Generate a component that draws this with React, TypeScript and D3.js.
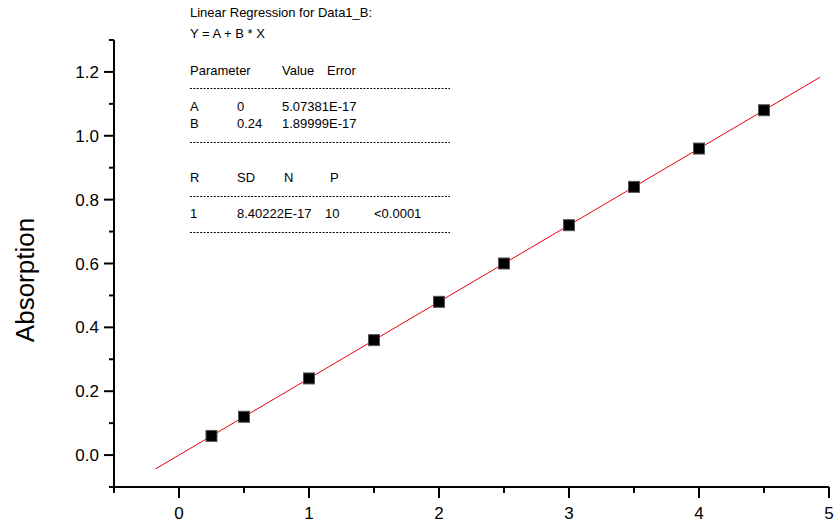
import { useEffect, useRef } from "react";
import * as d3 from "d3";

// data points (concentration vs absorption)
const xValues = [0.25, 0.5, 1, 1.5, 2, 2.5, 3, 3.5, 4, 4.5];
const yValues = [0.06, 0.12, 0.24, 0.36, 0.48, 0.6, 0.72, 0.84, 0.96, 1.08];

// fit line ends
const fitX = [-0.18, 4.93];
const fitA = 0;
const fitB = 0.24;

const xTicks = [0, 1, 2, 3, 4, 5];
const yTicks = [0, 0.2, 0.4, 0.6, 0.8, 1.0, 1.2];

const App = () => {
  const svgRef = useRef<SVGSVGElement | null>(null);

  useEffect(() => {
    const svg = d3.select(svgRef.current);
    svg.selectAll("*").remove();

    const width = 837;
    const height = 524;
    const font = "Liberation Sans, Arial, sans-serif";

    svg.attr("width", width).attr("height", height);

    const x = d3.scaleLinear().domain([-0.5, 5]).range([114, 829]);
    const y = d3.scaleLinear().domain([-0.1, 1.3]).range([487, 40]);

    // x axis
    const xAxis = svg.append("g").attr("transform", `translate(0,${y(-0.1)})`);
    xAxis
      .append("line")
      .attr("x1", x(-0.5))
      .attr("x2", x(5))
      .attr("stroke", "#000")
      .attr("stroke-width", 2);
    const xMinor = d3.range(-0.5, 5.01, 0.5);
    xAxis
      .selectAll("line.tick")
      .data(xMinor)
      .join("line")
      .attr("class", "tick")
      .attr("x1", (d) => x(d))
      .attr("x2", (d) => x(d))
      .attr("y1", 0)
      .attr("y2", (d) => (Math.abs(d - Math.round(d)) < 1e-6 ? 11 : 6))
      .attr("stroke", "#000")
      .attr("stroke-width", 2);
    xAxis
      .selectAll("text")
      .data(xTicks)
      .join("text")
      .attr("x", (d) => x(d))
      .attr("y", 32)
      .attr("text-anchor", "middle")
      .attr("font-family", font)
      .attr("font-size", 17)
      .text((d) => d3.format("d")(d));

    // y axis
    const yAxis = svg.append("g").attr("transform", `translate(${x(-0.5)},0)`);
    yAxis
      .append("line")
      .attr("y1", y(-0.1))
      .attr("y2", y(1.3))
      .attr("stroke", "#000")
      .attr("stroke-width", 2);
    const yMinor = d3.range(-0.1, 1.301, 0.1);
    yAxis
      .selectAll("line.tick")
      .data(yMinor)
      .join("line")
      .attr("class", "tick")
      .attr("y1", (d) => y(d))
      .attr("y2", (d) => y(d))
      .attr("x1", 0)
      .attr("x2", (d) => {
        const k = Math.round(d * 10);
        return k % 2 === 0 ? -10 : -5;
      })
      .attr("stroke", "#000")
      .attr("stroke-width", 2);
    yAxis
      .selectAll("text")
      .data(yTicks)
      .join("text")
      .attr("x", -15)
      .attr("y", (d) => y(d) + 6)
      .attr("text-anchor", "end")
      .attr("font-family", font)
      .attr("font-size", 17)
      .text((d) => d3.format(".1f")(d));

    svg
      .append("text")
      .attr("transform", `translate(34,280) rotate(-90)`)
      .attr("text-anchor", "middle")
      .attr("font-family", font)
      .attr("font-size", 26)
      .text("Absorption");

    // fit line
    svg
      .append("line")
      .attr("x1", x(fitX[0]))
      .attr("y1", y(fitA + fitB * fitX[0]))
      .attr("x2", x(fitX[1]))
      .attr("y2", y(fitA + fitB * fitX[1]))
      .attr("stroke", "#e8000b")
      .attr("stroke-width", 1);

    // markers
    const s = 11;
    svg
      .selectAll("rect.pt")
      .data(xValues)
      .join("rect")
      .attr("class", "pt")
      .attr("x", (d) => x(d) - s / 2)
      .attr("y", (d, i) => y(yValues[i]) - s / 2)
      .attr("width", s)
      .attr("height", s)
      .attr("fill", "#000")
      .attr("stroke", "#555")
      .attr("stroke-width", 1);

    // regression info box
    const info = svg
      .append("g")
      .attr("font-family", font)
      .attr("font-size", 13)
      .attr("fill", "#000");
    const rows: [string, number, number][] = [
      ["Linear Regression for Data1_B:", 190, 17],
      ["Y = A + B * X", 190, 38],
      ["Parameter", 190, 75],
      ["Value", 282, 75],
      ["Error", 327, 75],
      ["A", 190, 111],
      ["0", 237, 111],
      ["5.07381E-17", 282, 111],
      ["B", 190, 128],
      ["0.24", 237, 128],
      ["1.89999E-17", 282, 128],
      ["R", 190, 182],
      ["SD", 237, 182],
      ["N", 284, 182],
      ["P", 330, 182],
      ["1", 190, 218],
      ["8.40222E-17", 237, 218],
      ["10", 325, 218],
      ["<0.0001", 374, 218],
    ];
    info
      .selectAll("text")
      .data(rows)
      .join("text")
      .attr("x", (d) => d[1])
      .attr("y", (d) => d[2])
      .text((d) => d[0]);
    info
      .selectAll("line")
      .data([88, 142, 196, 232])
      .join("line")
      .attr("x1", 190)
      .attr("x2", 450)
      .attr("y1", (d) => d + 0.5)
      .attr("y2", (d) => d + 0.5)
      .attr("stroke", "#000")
      .attr("stroke-width", 1)
      .attr("stroke-dasharray", "2,1.4");
  }, []);

  return (
    <svg
      ref={svgRef}
      style={{ position: "absolute", left: 0, top: 0 }}
    ></svg>
  );
};

export default App;
